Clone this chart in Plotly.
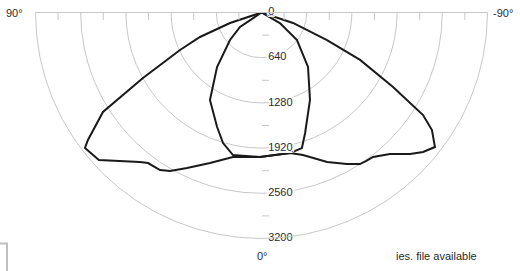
import plotly.graph_objects as go

# ---- data (candela values) ----
theta_wide = [90, 71.6, 68.3, 65.3, 61.1, 57.9, 53.7, 52.5, 47.8, 39.1, 37.0, 32.8, 30.0, 25.6,
              18.9, 11.2, 0.6, -11.5, -16.2, -23.7, -29.4, -33.0, -35.1, -37.7, -42.2, -46.4,
              -49.2, -52.2, -55.4, -57.6, -60.5, -64.3, -67.2, -71.6, -90]
r_wide = [0, 470, 937, 1270, 1917, 2650, 3049, 3151, 3108, 2728, 2669, 2653, 2591, 2441,
          2252, 2085, 2046, 2030, 2102, 2311, 2463, 2559, 2571, 2585, 2706, 2904,
          3022, 3108, 2932, 2709, 2140, 1549, 1006, 470, 0]

theta_narrow = [90, 56.0, 48.9, 39.2, 30.5, 21.2, 16.4, 11.3, 0.6, -11.5, -16.6, -19.9,
                -29.0, -40.5, -52.2, -60.0, -90]
r_narrow = [0, 367, 592, 996, 1438, 1739, 1927, 2058, 2046, 2030, 2003, 1814,
            1416, 1014, 636, 300, 0]

major_ticks = [0, 640, 1280, 1920, 2560, 3200]
major_labels = ["0", "640", "1280", "1920", "2560", "3200"]
minor_ticks = [320, 960, 1600, 2240, 2880]
angle_grid = list(range(-90, 91, 15))

GRID = "#c8c8c8"
TXT = "#2a2a2a"
FONT = "Liberation Sans, Arial, sans-serif"

fig = go.Figure()
fig.add_trace(go.Scatterpolar(theta=theta_wide, r=r_wide, mode="lines",
                              line=dict(color="#1a1a1a", width=2), subplot="polar",
                              showlegend=False, hoverinfo="skip"))
fig.add_trace(go.Scatterpolar(theta=theta_narrow, r=r_narrow, mode="lines",
                              line=dict(color="#1a1a1a", width=2), subplot="polar",
                              showlegend=False, hoverinfo="skip"))
# radial value labels along the 0° axis
halo = "-2px 0 0 #fff, 2px 0 0 #fff, 0 -2px 0 #fff, 0 2px 0 #fff, -2px -2px 0 #fff, 2px 2px 0 #fff, -2px 2px 0 #fff, 2px -2px 0 #fff"
fig.add_trace(go.Scatterpolar(theta=[0] * len(major_ticks), r=major_ticks, text=major_labels,
                              mode="markers+text", textposition="middle right",
                              marker=dict(size=9, color="rgba(0,0,0,0)"),
                              textfont=dict(family=FONT, size=11, color=TXT, shadow=halo),
                              subplot="polar", showlegend=False, hoverinfo="skip",
                              cliponaxis=False))
# invisible traces to activate helper tick subplots
for sp in ["polar2", "polar3", "polar4"]:
    fig.add_trace(go.Scatterpolar(theta=[0], r=[0], mode="markers", marker=dict(opacity=0),
                                  subplot=sp, showlegend=False, hoverinfo="skip"))

dom = dict(x=[35.5 / 520, 487.5 / 520], y=[(271 - 238.5) / 271, (271 - 12.5) / 271])

base_ang = dict(rotation=270, direction="clockwise")

fig.update_layout(
    width=520, height=271, margin=dict(l=0, r=0, t=0, b=0),
    paper_bgcolor="white", font=dict(family=FONT, size=11, color=TXT),
    polar=dict(
        domain=dom, sector=[180, 360], bgcolor="white",
        angularaxis=dict(**base_ang, tickvals=angle_grid, showticklabels=False, ticks="",
                         gridcolor=GRID, gridwidth=1, showline=True, linecolor=GRID, linewidth=1),
        radialaxis=dict(range=[0, 3200], tickvals=major_ticks, showticklabels=False,
                        angle=270, side="counterclockwise", showline=False, ticks="",
                        gridcolor=GRID, gridwidth=1),
    ),
)
for name, ang, side in [("polar2", 180, "counterclockwise"), ("polar3", 0, "clockwise"),
                        ("polar4", 270, "counterclockwise")]:
    fig.update_layout({name: dict(
        domain=dom, sector=[180, 360], bgcolor="rgba(0,0,0,0)",
        angularaxis=dict(**base_ang, showgrid=False, showticklabels=False, ticks="", showline=False),
        radialaxis=dict(range=[0, 3200], tickvals=minor_ticks, angle=ang, side=side,
                        ticks="outside", ticklen=7, tickcolor=GRID, tickwidth=1,
                        showticklabels=False, showgrid=False, showline=False),
    )})

ann = [
    dict(text="90°", x=25, y=13, xanchor="right"),
    dict(text="-90°", x=491, y=13, xanchor="left"),
    dict(text="0°", x=262, y=256, xanchor="center"),
    dict(text="ies. file available", x=436, y=256, xanchor="center"),
]
fig.update_layout(annotations=[
    dict(text=a["text"], xref="paper", yref="paper", x=a["x"] / 520, y=1 - a["y"] / 271,
         xanchor=a["xanchor"], yanchor="middle", showarrow=False,
         font=dict(family=FONT, size=11, color=TXT)) for a in ann
])
fig.update_layout(shapes=[
    dict(type="path", xref="paper", yref="paper",
         path=f"M 0 {1 - 243.5 / 271} L {7 / 520} {1 - 243.5 / 271} L {7 / 520} 0",
         line=dict(color="#c0c0c0", width=2)),
])

fig.write_html("out.html")
